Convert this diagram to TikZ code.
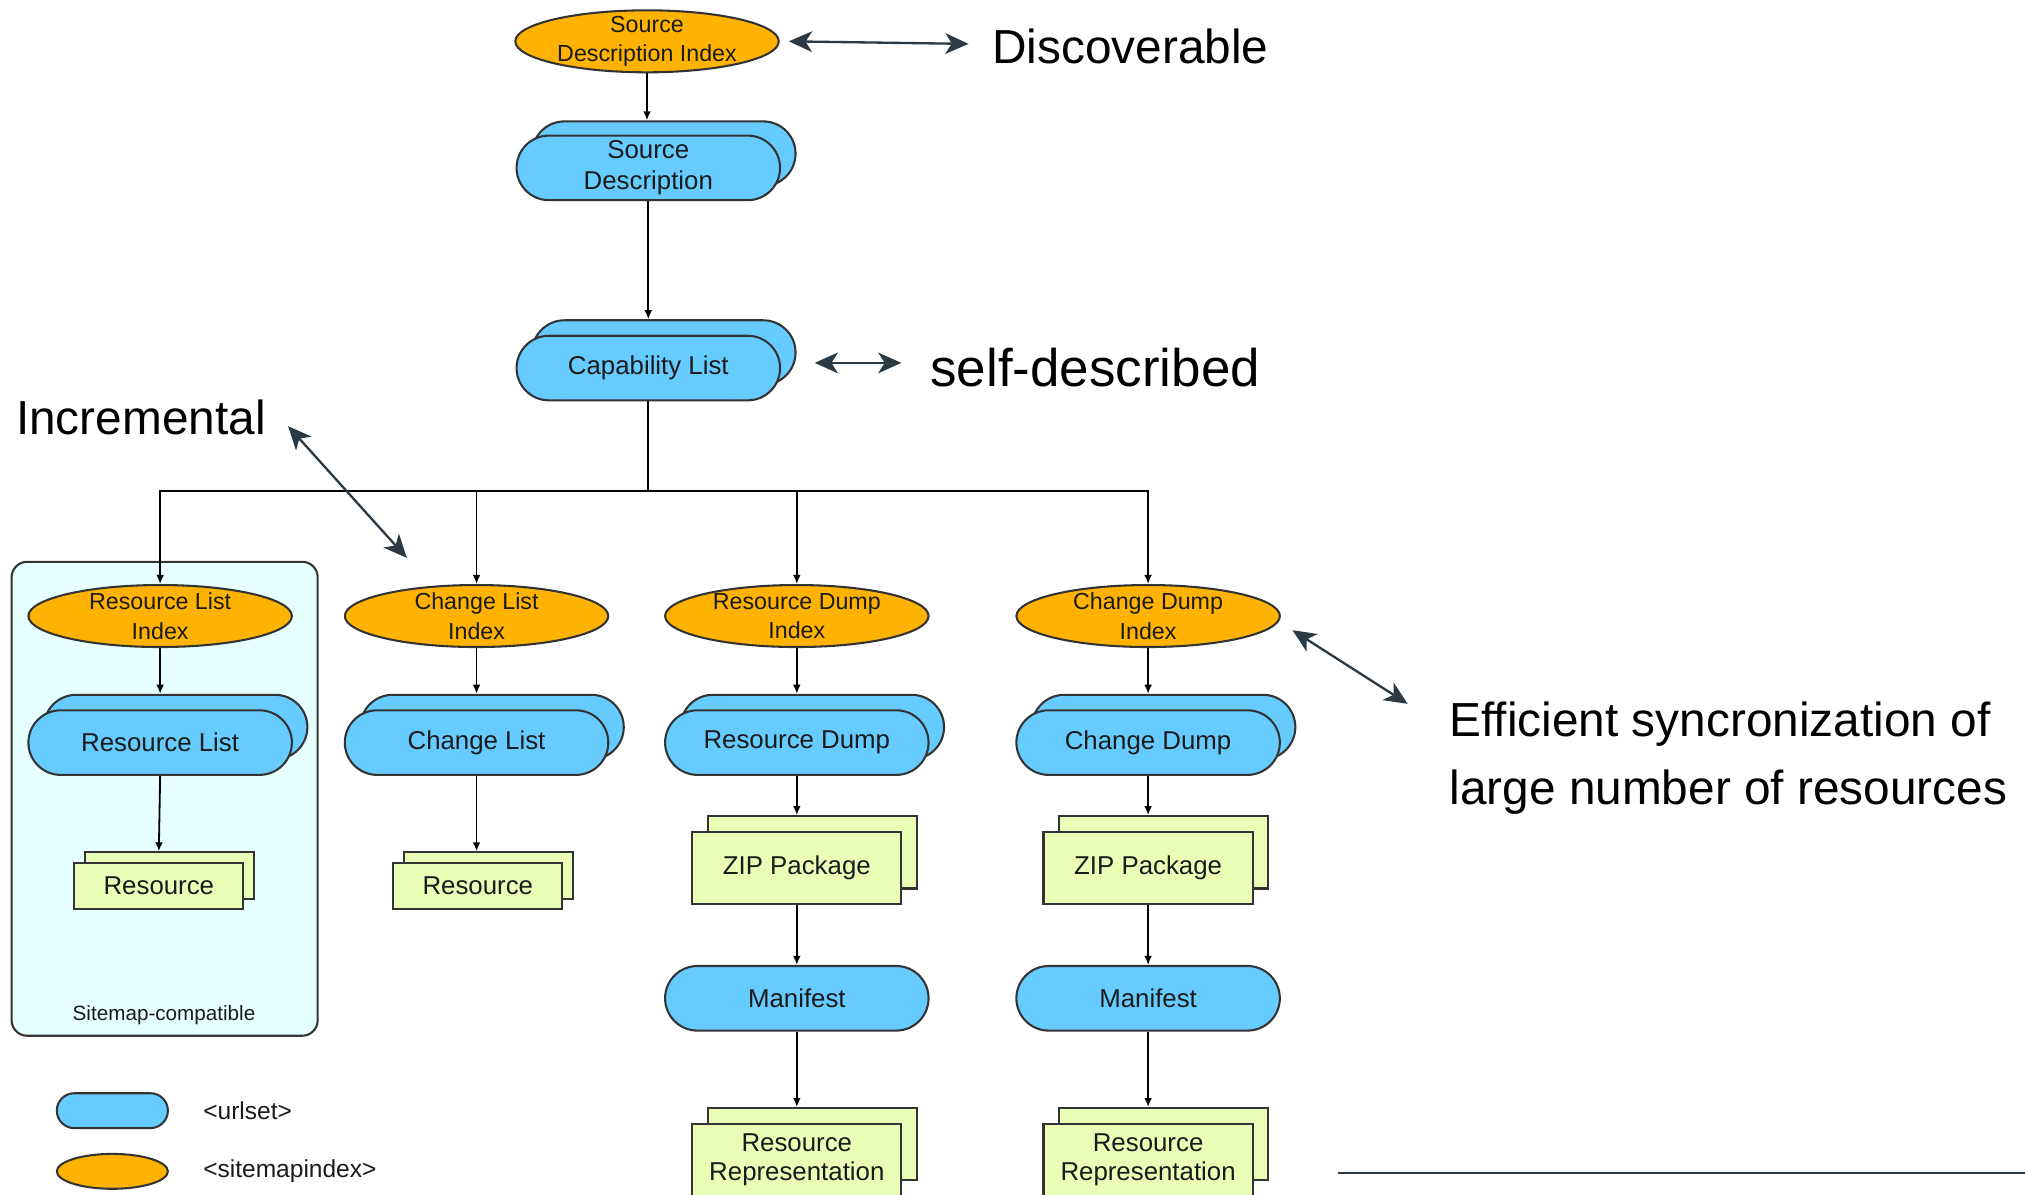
\documentclass[tikz,border=0pt]{standalone}
\usepackage{fontspec}
\setmainfont{Liberation Sans}
\usetikzlibrary{shapes.geometric,shapes.misc,arrows.meta,calc}
\definecolor{orangeC}{HTML}{FFB300}
\definecolor{blueC}{HTML}{66CCFF}
\definecolor{greenC}{HTML}{EAFDB6}
\definecolor{cyanC}{HTML}{E6FFFF}
\definecolor{lineC}{HTML}{333333}
\definecolor{annC}{HTML}{2B3A44}
\definecolor{txtC}{HTML}{1A1A1A}
\tikzset{
  idx/.style={ellipse, draw=lineC, line width=0.8pt, fill=orangeC, minimum width=102pt, minimum height=24pt,
    inner xsep=0pt, inner ysep=-1.5pt, align=center, text=txtC, font=\fontsize{9}{11.5}\selectfont},
  url/.style={rounded rectangle, draw=lineC, line width=0.8pt, fill=blueC, minimum width=102pt, minimum height=25pt,
    inner sep=0pt, align=center, text=txtC, font=\fontsize{10}{12}\selectfont},
  urlback/.style={url},
  res/.style={rectangle, draw=lineC, line width=0.8pt, fill=greenC, inner sep=0pt, align=center, text=txtC,
    font=\fontsize{10}{11.5}\selectfont},
  small/.style={res, minimum width=65.5pt, minimum height=18pt},
  big/.style={res, minimum width=81pt, minimum height=28pt},
  conn/.style={draw=black, line width=0.7pt, -{Latex[length=3.5pt,width=3pt]}},
  plain/.style={draw=black, line width=0.7pt},
  ann/.style={draw=annC, line width=0.9pt, {Stealth[length=9pt,width=8pt,inset=2.5pt]}-{Stealth[length=9pt,width=8pt,inset=2.5pt]}},
  anntext/.style={anchor=west, inner sep=0pt, align=left, font=\fontsize{18.5}{26}\selectfont, text=black},
}
\begin{document}
\begin{tikzpicture}[x=0.5pt,y=-0.5pt]
\fill[white] (0,0) rectangle (1568,925);
\useasboundingbox (0,0) rectangle (1568,925);

% sitemap-compatible box
\node[draw=lineC, line width=0.8pt, fill=cyanC, rounded corners=6pt, minimum width=118.5pt, minimum height=183.5pt, inner sep=0pt] (smbox) at (127.5,618.5) {};
\node[font=\fontsize{8}{9}\selectfont, text=txtC, inner sep=0pt] (smtext) at (127,786) {Sitemap-compatible};

% top chain
\node[idx] (sdi) at (501,32) {Source\\Description Index};
\node[urlback] (sdb) at (514,119) {};
\node[url] (sd) at (502,130) {Source\\Description};
\node[urlback] (clb) at (514,273) {};
\node[url] (cl) at (502,285) {Capability List};

% column 1
\node[idx] (rli) at (124,477) {Resource List\\Index};
\node[urlback] (rlb) at (136,563) {};
\node[url] (rl) at (124,575) {Resource List};
\node[small] (r1b) at (131,678) {};
\node[small] (r1) at (123,686) {Resource};

% column 2
\node[idx] (cli) at (369,477) {Change List\\Index};
\node[urlback] (clib) at (381,563) {};
\node[url] (clist) at (369,575) {Change List};
\node[small] (r2b) at (378,678) {};
\node[small] (r2) at (370,686) {Resource};

% column 3
\node[idx] (rdi) at (617,477) {Resource Dump\\Index};
\node[urlback] (rdb) at (629,563) {};
\node[url] (rd) at (617,575) {Resource Dump};
\node[big] (z1b) at (629,660) {};
\node[big] (z1) at (617,672) {ZIP Package};
\node[url] (m1) at (617,773) {Manifest};
\node[big] (rr1b) at (629,886) {};
\node[big] (rr1) at (617,898) {Resource\\Representation};

% column 4
\node[idx] (cdi) at (889,477) {Change Dump\\Index};
\node[urlback] (cdb) at (901,563) {};
\node[url] (cd) at (889,575) {Change Dump};
\node[big] (z2b) at (901,660) {};
\node[big] (z2) at (889,672) {ZIP Package};
\node[url] (m2) at (889,773) {Manifest};
\node[big] (rr2b) at (901,886) {};
\node[big] (rr2) at (889,898) {Resource\\Representation};

% connectors
\draw[conn] (sdi.south) -- (sdi.south |- sdb.north);
\draw[conn] (sd.south) -- (sd.south |- clb.north);
\coordinate (hub) at (502,380);
\draw[plain] (cl.south) -- (hub);
\foreach \n in {rli,cli,rdi,cdi} \draw[conn] (hub) -| (\n.north);
\draw[conn] (rli.south) -- (rli.south |- rlb.north);
\draw[conn] (cli.south) -- (cli.south |- clib.north);
\draw[conn] (rdi.south) -- (rdi.south |- rdb.north);
\draw[conn] (cdi.south) -- (cdi.south |- cdb.north);
\draw[conn] (rl.south) -- (r1.north |- r1b.north);
\draw[conn] (clist.south) -- (clist.south |- r2b.north);
\draw[conn] (rd.south) -- (rd.south |- z1b.north);
\draw[conn] (cd.south) -- (cd.south |- z2b.north);
\draw[conn] (z1.south) -- (m1.north);
\draw[conn] (z2.south) -- (m2.north);
\draw[conn] (m1.south) -- (m1.south |- rr1b.north);
\draw[conn] (m2.south) -- (m2.south |- rr2b.north);

% legend
\node[url, minimum width=43pt, minimum height=13.5pt] (lgu) at (87,860) {};
\node[anchor=west, inner sep=0pt, font=\fontsize{9.5}{11}\selectfont, text=txtC] (lgut) at (157,860) {\textless urlset\textgreater};
\node[ellipse, draw=lineC, line width=0.8pt, fill=orangeC, minimum width=43pt, minimum height=13.5pt, inner sep=0pt] (lgo) at (87,907) {};
\node[anchor=west, inner sep=0pt, font=\fontsize{9.5}{11}\selectfont, text=txtC] (lgot) at (157,907) {\textless sitemapindex\textgreater};

% annotations
\node[anntext] (disc) at (768,36) {Discoverable};
\node[anntext, font=\fontsize{20.5}{26}\selectfont] (self) at (720,285) {self-described};
\node[anntext] (incr) at (12,323) {Incremental};
\node[anntext] (eff) at (1122,587) {Efficient syncronization of\\large number of resources};

\draw[ann] ($(sdi.east)+(7,0)$) -- ($(disc.west)+(-18,-2)$);
\draw[ann] ($(cl.east)+(26,-4)$) -- ($(self.west)+(-22,-4)$);
\draw[ann] ($(incr.east)+(17,7)$) -- ($(cli.center)+(-54,-45)$);
\draw[ann] ($(cdi.east)+(9,11)$) -- ($(eff.west)+(-32,-42)$);

\coordinate (hl1) at (1036,908);
\coordinate (hl2) at (1568,908);
\draw[draw=annC, line width=0.8pt] (hl1) -- (hl2);
\end{tikzpicture}
\end{document}
